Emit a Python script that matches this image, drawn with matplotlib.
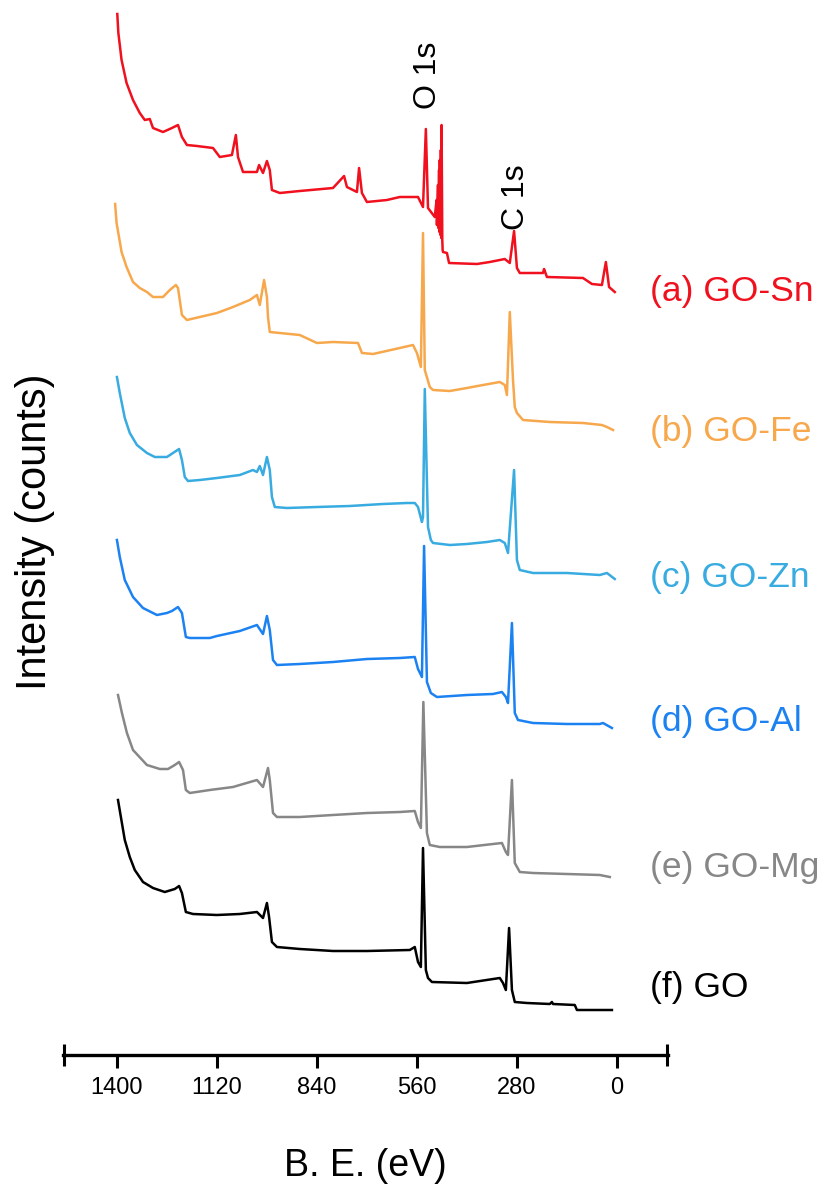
import matplotlib
matplotlib.use("Agg")
import matplotlib.pyplot as plt

plt.rcParams['font.family'] = ['Liberation Sans', 'DejaVu Sans']

# binding energy (eV) and intensity (counts, relative to each trace's baseline)
be_sn = [1399, 1396, 1387, 1373, 1355, 1336, 1322, 1308, 1299, 1271, 1246, 1229, 1218, 1204,
         1176, 1131, 1112, 1078, 1067, 1061, 1047, 1008, 1002, 991, 980, 972, 966, 944, 888,
         795, 764, 756, 728, 722, 714, 700, 644, 608, 557, 543, 535, 529, 510, 505, 504, 501,
         500, 498, 497, 496, 494, 493, 492, 491, 489, 488, 487, 476, 470, 392, 356, 314, 300,
         288, 280, 272, 207, 204, 196, 95, 70, 42, 31, 22, 6]
int_sn = [281, 262, 235, 212, 195, 182, 175, 176, 167, 163, 167, 170, 158, 150,
          149, 147, 138, 140, 160, 138, 123, 123, 130, 122, 134, 125, 105, 102, 104,
          107, 119, 108, 103, 127, 102, 93, 95, 98, 98, 88, 166, 87, 78, 95, 70, 110,
          67, 125, 63, 135, 60, 145, 57, 170, 55, 45, 43, 42, 32, 31, 33, 36, 32,
          64, 27, 22, 22, 26, 18, 17, 11, 10, 33, 8, 3]

be_fe = [1405, 1401, 1387, 1373, 1355, 1336, 1316, 1299, 1271, 1252, 1235, 1229, 1218, 1204,
         1168, 1120, 1075, 1028, 1008, 1000, 988, 980, 977, 972, 944, 888, 840, 795, 725,
         714, 683, 608, 571, 560, 549, 543, 538, 524, 515, 468, 420, 375, 328, 314, 308,
         300, 291, 286, 280, 263, 188, 95, 42, 28, 11]
int_fe = [231, 212, 183, 168, 153, 147, 143, 138, 138, 145, 150, 147, 120, 115,
          118, 122, 128, 135, 140, 130, 155, 138, 118, 103, 102, 100, 92, 93, 92,
          82, 81, 87, 90, 82, 68, 202, 65, 48, 45, 44, 47, 50, 53, 50, 40,
          123, 55, 28, 22, 15, 13, 12, 10, 8, 5]

be_zn = [1400, 1392, 1378, 1364, 1344, 1316, 1294, 1260, 1243, 1226, 1218, 1210, 1201, 1168,
         1120, 1056, 1019, 1008, 1000, 991, 980, 972, 966, 958, 924, 840, 748, 655, 588,
         566, 557, 546, 543, 538, 529, 521, 515, 468, 420, 364, 328, 314, 305, 288, 280,
         272, 235, 140, 48, 28, 6]
int_zn = [208, 192, 167, 152, 140, 132, 128, 128, 132, 136, 125, 108, 104, 105,
          107, 110, 115, 113, 119, 110, 128, 115, 88, 78, 77, 78, 79, 81, 82,
          82, 78, 63, 68, 196, 58, 45, 42, 40, 41, 43, 45, 42, 32, 115, 25,
          15, 12, 12, 10, 12, 6]

be_al = [1400, 1392, 1378, 1355, 1327, 1288, 1260, 1246, 1229, 1218, 1207, 1196, 1140, 1120,
         1056, 1008, 991, 980, 972, 963, 952, 888, 795, 700, 608, 566, 557, 546, 540, 532,
         521, 504, 420, 347, 322, 311, 305, 294, 286, 277, 235, 140, 48, 39, 14]
int_al = [195, 178, 155, 138, 127, 120, 122, 124, 128, 122, 98, 97, 97, 99,
          104, 110, 101, 119, 105, 75, 70, 71, 73, 76, 77, 78, 66, 58, 189, 53,
          42, 38, 40, 41, 43, 38, 32, 112, 22, 15, 12, 11, 11, 12, 7]

be_mg = [1397, 1386, 1372, 1355, 1316, 1280, 1257, 1238, 1226, 1215, 1207, 1196, 1140, 1075,
         1008, 991, 977, 972, 963, 952, 888, 795, 700, 608, 566, 557, 549, 542, 532, 524,
         496, 420, 347, 322, 311, 305, 294, 286, 272, 235, 140, 48, 20]
int_mg = [185, 167, 147, 130, 115, 111, 111, 115, 118, 110, 90, 87, 90, 93,
          100, 93, 112, 100, 67, 63, 63, 65, 67, 68, 69, 58, 52, 178, 47, 35,
          33, 33, 36, 37, 28, 25, 100, 17, 8, 7, 6, 5, 3]

be_go = [1397, 1378, 1364, 1350, 1327, 1299, 1266, 1238, 1226, 1218, 1207, 1187, 1120, 1056,
         1008, 991, 980, 974, 966, 952, 888, 795, 700, 580, 566, 557, 549, 543, 535, 529,
         518, 420, 328, 319, 311, 302, 294, 286, 252, 188, 182, 179, 118, 112, 14]
int_go = [215, 175, 158, 145, 133, 127, 123, 126, 129, 122, 103, 101, 100, 101,
          103, 97, 112, 98, 73, 68, 66, 64, 64, 65, 68, 53, 48, 167, 45, 37,
          33, 32, 37, 32, 25, 87, 25, 13, 12, 11, 13, 11, 10, 5, 5]

labels = ['(a) GO-Sn', '(b) GO-Fe', '(c) GO-Zn', '(d) GO-Al', '(e) GO-Mg', '(f) GO']
colors = ['#f0101e', '#f7a84c', '#38abe0', '#1c82f2', '#878787', '#000000']
offsets = [760, 620, 470, 320, 175, 40]
label_y = [763, 623, 478, 333, 188, 68]

xticks = [1400, 1120, 840, 560, 280, 0]

spectra = [(be_sn, int_sn), (be_fe, int_fe), (be_zn, int_zn),
           (be_al, int_al), (be_mg, int_mg), (be_go, int_go)]

fig = plt.figure(figsize=(8.29, 11.91), dpi=100)
ax = fig.add_axes([63 / 829, 136 / 1191, 605 / 829, 1055 / 1191])

for (be, inten), off, c, lab, ly in zip(spectra, offsets, colors, labels, label_y):
    ax.plot(be, [v + off for v in inten], color=c, lw=1.8)
    ax.text(-92, ly, lab, color=c, fontsize=25.5, va='center', ha='left', clip_on=False)

ax.text(530, 980, 'O 1s', rotation=90, fontsize=23, ha='center', va='center')
ax.text(283, 858, 'C 1s', rotation=90, fontsize=23, ha='center', va='center')

ax.set_xlim(1551, -143)
ax.set_ylim(0, 1055)
ax.set_xticks(xticks)
ax.set_xticks([1549, -141], minor=True)
ax.set_yticks([])
ax.tick_params(axis='x', which='major', direction='out', length=9, width=2.2,
               labelsize=17, pad=7)
ax.tick_params(axis='x', which='minor', direction='inout', length=16, width=2.2)
for s in ['left', 'top', 'right']:
    ax.spines[s].set_visible(False)
ax.spines['bottom'].set_linewidth(2.4)

ax.set_xlabel('B. E. (eV)', fontsize=27)
ax.xaxis.set_label_coords(0.5, -0.088)
ax.set_ylabel('Intensity (counts)', fontsize=30)
ax.yaxis.set_label_coords(-0.014, 0.496)

fig.savefig('out.png', dpi=100)
